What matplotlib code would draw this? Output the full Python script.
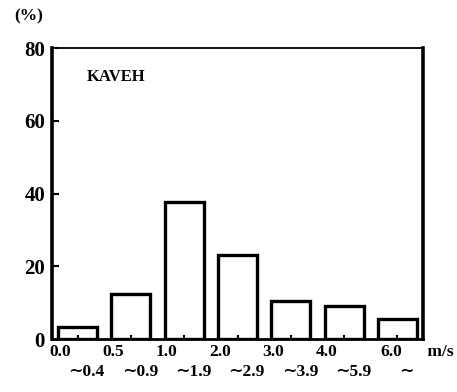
import matplotlib.pyplot as plt

# wind speed classes (m/s) and frequency (%)
lo_labels = ['0.0', '0.5', '1.0', '2.0', '3.0', '4.0', '6.0']
hi_labels = ['∼0.4', '∼0.9', '∼1.9', '∼2.9', '∼3.9', '∼5.9', '∼']
freq = [3.2, 12.3, 37.8, 23.0, 10.5, 9.0, 5.6]
yticks = [0, 20, 40, 60, 80]

plt.rcParams['font.family'] = ['Liberation Serif', 'DejaVu Serif']
plt.rcParams['font.weight'] = 'bold'

fig = plt.figure(figsize=(4.57, 3.92), dpi=100)
ax = fig.add_axes([0.1138, 0.1352, 0.8118, 0.7423])

x = list(range(len(freq)))
ax.bar(x, freq, width=0.73, facecolor='white', edgecolor='black', linewidth=2.4)

ax.set_xlim(-0.48, len(freq) - 0.52)
ax.set_ylim(0, 80)
ax.set_yticks(yticks)
ax.set_yticklabels([str(v) for v in yticks], fontsize=15, fontweight='bold')
ax.set_xticks(x)
ax.set_xticklabels([])
ax.tick_params(axis='y', direction='in', length=5, width=1.5, pad=5)
ax.tick_params(axis='x', direction='in', length=3, width=1.5)

for side in ['left', 'right']:
    ax.spines[side].set_linewidth(2.6)
ax.spines['bottom'].set_linewidth(2.0)
ax.spines['top'].set_linewidth(1.3)

trans = ax.get_xaxis_transform()
for i in x:
    off = -0.12 if i == len(x) - 1 else -0.33
    ax.text(i + off, -0.045, lo_labels[i], transform=trans, ha='center', va='center',
            fontsize=12.5, fontweight='bold')
    ax.text(i + 0.17, -0.113, hi_labels[i], transform=trans, ha='center', va='center',
            fontsize=12.5, fontweight='bold')

ax.text(1.0, -0.045, ' m/s', transform=ax.transAxes, ha='left', va='center',
        fontsize=12.5, fontweight='bold')
ax.text(-0.062, 1.11, '(%)', transform=ax.transAxes, ha='center', va='center',
        fontsize=12.5, fontweight='bold')
ax.text(0.095, 0.9, 'KAVEH', transform=ax.transAxes, ha='left', va='center',
        fontsize=12, fontweight='bold')

fig.savefig('out.png', dpi=100)
